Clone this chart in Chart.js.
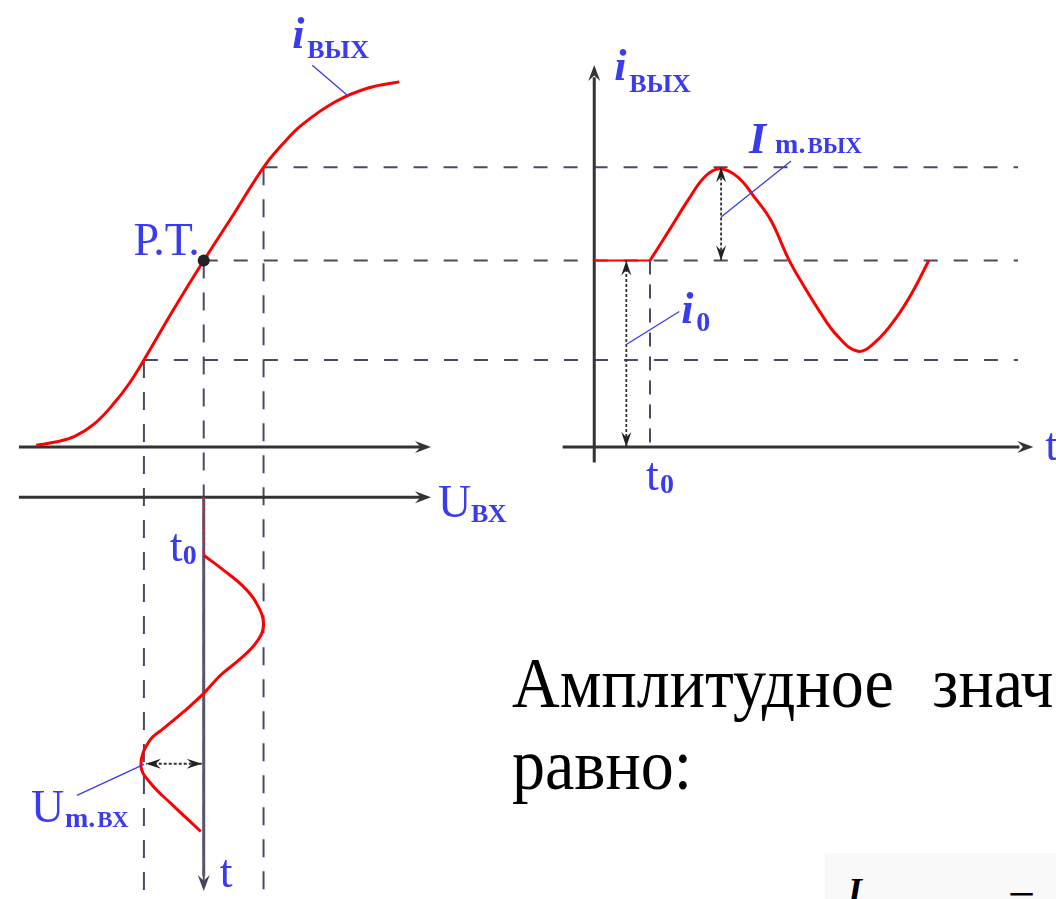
<!DOCTYPE html>
<html>
<head>
<meta charset="utf-8">
<script src="https://cdn.jsdelivr.net/npm/chart.js@4.4.0/dist/chart.umd.min.js"></script>
<style>
  html, body { margin: 0; padding: 0; background: #fff; overflow: hidden; }
  #wrap { position: relative; width: 1056px; height: 899px; overflow: hidden; }
  #diagram { position: absolute; left: 0; top: 0; }
  .text { position: absolute; left: 512px; top: 642px; font: 66px 'Liberation Serif', serif; line-height: 76px; color: #000; white-space: nowrap; word-spacing: 22px; transform: scaleY(1.08); transform-origin: 0 0; }
  .formula { position: absolute; left: 825px; top: 853px; width: 231px; height: 46px; background: #f9f9f9; overflow: hidden; font-family: 'Liberation Serif', serif; line-height: 1; }
  .formula span { position: absolute; }
</style>
</head>
<body>
<div id="wrap">
  <canvas id="diagram" width="1056" height="899"></canvas>
  <div class="text">Амплитудное знач<br>равно:</div>
  <div class="formula">
    <span style="left:23px; top:20px; font-size:36px; font-style:italic; font-weight:bold;">I</span>
    <span style="left:183px; top:22px; font-size:48px;">=</span>
  </div>
</div>
<script>
// transfer characteristic i_вых(U_вх)
const uCurve = [0, 0.32, 0.65, 0.98, 1.31, 1.56, 1.8, 2.3, 2.8, 3.3, 3.8, 4.12, 4.45, 5.0, 5.56, 6.07];
const iCurve = [0.06, 0.16, 0.35, 0.76, 1.43, 2.06, 2.8, 4.44, 6.0, 7.49, 9.0, 9.75, 10.38, 11.11, 11.56, 11.75];

// output current in time (right panel)
const tFlat = [0, 4];
const iFlat = [6, 6];
const tOut = [4, 5.55, 6.74, 7.92, 9.0, 10.28, 11.47, 12.65, 13.95, 15.01, 16.19, 17.38, 18.91, 20.21, 21.63, 22.82, 24];
const iOut = [6, 7.1, 7.95, 8.69, 8.95, 8.69, 8.05, 7.31, 6.04, 5.2, 4.35, 3.61, 3.08, 3.4, 4.14, 4.98, 6];

// input voltage in time (bottom panel, time goes down)
const tIn = [4.16, 5.23, 6.4, 7.59, 9.13, 10.43, 11.61, 12.79, 14.09, 15.39, 16.57, 17.52, 19.29, 20.59, 22.0, 24.02];
const uIn = [2.8, 3.13, 3.46, 3.68, 3.8, 3.68, 3.41, 3.08, 2.8, 2.47, 2.14, 1.89, 1.75, 1.92, 2.25, 2.75];

// levels: min, working point, max
const uLevels = [1.8, 2.8, 3.8];
const iLevels = [2.8, 6, 9];
const t0 = 4;
const tGuideEnd = 30.4;

const BLUE = '#3a3aee';
const pts = (xs, ys) => xs.map((v, k) => ({ x: v, y: ys[k] }));

// min/max of a hidden scale from where its zero sits and how many px one unit takes
function fit(originPx, pxPerUnit, sizePx) {
  return { min: -originPx / pxPerUnit, max: (sizePx - originPx) / pxPerUnit };
}

function line(ctx, x1, y1, x2, y2) {
  ctx.beginPath(); ctx.moveTo(x1, y1); ctx.lineTo(x2, y2); ctx.stroke();
}

function head(ctx, x, y, ang, len = 16, half = 6) {
  ctx.save();
  ctx.translate(x, y); ctx.rotate(ang);
  ctx.beginPath();
  ctx.moveTo(0, 0); ctx.lineTo(-len, -half); ctx.lineTo(-len * 0.65, 0); ctx.lineTo(-len, half);
  ctx.closePath(); ctx.fill();
  ctx.restore();
}

function dbl(ctx, x1, y1, x2, y2) {
  const ang = Math.atan2(y2 - y1, x2 - x1);
  ctx.save();
  ctx.lineWidth = 1.8; ctx.setLineDash([3, 2]);
  line(ctx, x1, y1, x2, y2);
  ctx.setLineDash([]);
  head(ctx, x2, y2, ang, 15, 5);
  head(ctx, x1, y1, ang + Math.PI, 15, 5);
  ctx.restore();
}

function txt(ctx, s, font, x, y) {
  ctx.font = font; ctx.textAlign = 'left'; ctx.fillText(s, x, y);
  return x + ctx.measureText(s).width;
}

const BIG = "46px 'Liberation Serif'";
const ITAL = "italic bold 44px 'Liberation Serif'";
const SUB = "bold small-caps 37px 'Liberation Serif'";
const SUB_S = "bold small-caps 33px 'Liberation Serif'";
const IDX = "bold 28px 'Liberation Serif'";

const guides = {
  id: 'guides',
  beforeDatasetsDraw(chart) {
    const { ctx, chartArea, scales: { x, y, xT, yT } } = chart;
    ctx.save();
    // dashed projection lines
    ctx.strokeStyle = '#4a4a62';
    ctx.lineWidth = 2;
    ctx.setLineDash([14, 16]);
    uLevels.forEach((u, k) => {
      const yy = y.getPixelForValue(iLevels[k]);
      line(ctx, x.getPixelForValue(u), yy, xT.getPixelForValue(tGuideEnd), yy);
    });
    ctx.setLineDash([18, 14]);
    uLevels.forEach((u, k) => {
      const xx = x.getPixelForValue(u);
      line(ctx, xx, y.getPixelForValue(iLevels[k]), xx, chartArea.bottom);
    });
    ctx.setLineDash([14, 10]);
    line(ctx, xT.getPixelForValue(t0), y.getPixelForValue(iLevels[1]), xT.getPixelForValue(t0), y.getPixelForValue(0));
    ctx.setLineDash([]);

    // axes
    ctx.strokeStyle = '#333'; ctx.fillStyle = '#333'; ctx.lineWidth = 3;
    const i0 = y.getPixelForValue(0), u0 = yT.getPixelForValue(0);
    line(ctx, x.getPixelForValue(-0.29), i0, x.getPixelForValue(6.45), i0);
    head(ctx, x.getPixelForValue(6.6), i0, 0);
    line(ctx, x.getPixelForValue(-0.29), u0, x.getPixelForValue(6.45), u0);
    head(ctx, x.getPixelForValue(6.6), u0, 0);
    const ax = xT.getPixelForValue(0);
    line(ctx, ax, y.getPixelForValue(-0.5), ax, y.getPixelForValue(11.9));
    head(ctx, ax, y.getPixelForValue(12.29), -Math.PI / 2);
    line(ctx, xT.getPixelForValue(-2.27), i0, xT.getPixelForValue(30.5), i0);
    head(ctx, xT.getPixelForValue(31.5), i0, 0);
    ctx.strokeStyle = '#55556e'; ctx.fillStyle = '#44445a';
    const tx = x.getPixelForValue(uLevels[1]);
    line(ctx, tx, u0, tx, yT.getPixelForValue(27.2));
    head(ctx, tx, yT.getPixelForValue(28.3), Math.PI / 2);
    ctx.restore();
  },
  afterDatasetsDraw(chart) {
    const { ctx, scales: { x, y, xT, yT } } = chart;
    ctx.save();
    ctx.strokeStyle = '#333'; ctx.fillStyle = '#222';
    // amplitude / bias arrows
    const a0 = xT.getPixelForValue(2.3);
    dbl(ctx, a0, y.getPixelForValue(0), a0, y.getPixelForValue(iLevels[1]));
    const am = xT.getPixelForValue(9.1);
    dbl(ctx, am, y.getPixelForValue(iLevels[1]), am, y.getPixelForValue(iLevels[2]));
    const yu = yT.getPixelForValue(19.15);
    dbl(ctx, x.getPixelForValue(uLevels[1]) - 2, yu, x.getPixelForValue(uLevels[0]) + 2, yu);

    // leader lines
    ctx.strokeStyle = BLUE; ctx.lineWidth = 1.3;
    const L1 = [x.getPixelForValue(5.2), y.getPixelForValue(11.32)];
    line(ctx, L1[0], L1[1], L1[0] - 35, L1[1] - 30);
    const L2 = [a0, y.getPixelForValue(3.3)];
    line(ctx, L2[0], L2[1], L2[0] + 53, L2[1] - 33);
    const L3 = [am, y.getPixelForValue(7.4)];
    line(ctx, L3[0], L3[1], L3[0] + 70, L3[1] - 56);
    const L4 = [x.getPixelForValue(uLevels[0]), yT.getPixelForValue(19.2)];
    line(ctx, L4[0], L4[1], L4[0] - 67, L4[1] + 31);

    // labels
    ctx.fillStyle = BLUE; ctx.textBaseline = 'alphabetic';
    txt(ctx, 'i', ITAL, L1[0] - 55, L1[1] - 47);
    txt(ctx, 'вых', SUB, L1[0] - 40, L1[1] - 37);

    const top = [xT.getPixelForValue(0), y.getPixelForValue(12.29)];
    txt(ctx, 'i', ITAL, top[0] + 20, top[1] + 15);
    txt(ctx, 'вых', SUB, top[0] + 35, top[1] + 27);

    ctx.font = BIG; ctx.textAlign = 'right';
    ctx.fillText('Р.Т.', x.getPixelForValue(uLevels[1]) - 4, y.getPixelForValue(iLevels[1]) - 6);

    const ut = [x.getPixelForValue(6.6), yT.getPixelForValue(0)];
    txt(ctx, 'U', BIG, ut[0] + 7, ut[1] + 20);
    txt(ctx, 'вх', SUB, ut[0] + 40, ut[1] + 25);

    const tb = [x.getPixelForValue(uLevels[1]), yT.getPixelForValue(28.3)];
    txt(ctx, 't', BIG, tb[0] + 16, tb[1] - 4);
    const tb0 = [tb[0], yT.getPixelForValue(t0)];
    txt(ctx, 't', BIG, tb0[0] - 34, tb0[1] + 8);
    txt(ctx, '0', IDX, tb0[0] - 21, tb0[1] + 11);

    const tr0 = [xT.getPixelForValue(t0), y.getPixelForValue(0)];
    txt(ctx, 't', BIG, tr0[0] - 4, tr0[1] + 43);
    txt(ctx, '0', IDX, tr0[0] + 10, tr0[1] + 46);
    txt(ctx, 't', BIG, xT.getPixelForValue(31.5) + 12, tr0[1] + 13);

    txt(ctx, 'i', ITAL, L2[0] + 55, L2[1] - 21);
    txt(ctx, '0', IDX, L2[0] + 70, L2[1] - 13);

    txt(ctx, 'I', ITAL, L3[0] + 28, L3[1] - 64);
    let nx = txt(ctx, 'm.', IDX, L3[0] + 54, L3[1] - 64);
    txt(ctx, 'вых', SUB_S, nx + 2, L3[1] - 64);

    txt(ctx, 'U', BIG, L4[0] - 113, L4[1] + 58);
    nx = txt(ctx, 'm.', IDX, L4[0] - 79, L4[1] + 63);
    txt(ctx, 'вх', SUB_S, nx + 2, L4[1] + 63);
    ctx.restore();
  }
};

new Chart(document.getElementById('diagram'), {
  type: 'scatter',
  data: {
    datasets: [
      { data: [{ x: uLevels[1], y: iLevels[1] }], xAxisID: 'x', yAxisID: 'y', showLine: false,
        pointRadius: 6, pointBackgroundColor: '#222', pointBorderWidth: 0 },
      { data: pts(uCurve, iCurve), xAxisID: 'x', yAxisID: 'y', showLine: true, tension: 0.4,
        borderColor: '#ff0000', borderWidth: 3, pointRadius: 0 },
      { data: pts(tFlat, iFlat), xAxisID: 'xT', yAxisID: 'y', showLine: true,
        borderColor: '#ff0000', borderWidth: 2, pointRadius: 0 },
      { data: pts(tOut, iOut), xAxisID: 'xT', yAxisID: 'y', showLine: true, tension: 0.4,
        borderColor: '#ff0000', borderWidth: 3, pointRadius: 0 },
      { data: pts(uIn, tIn), xAxisID: 'x', yAxisID: 'yT', showLine: true, tension: 0.4,
        borderColor: '#ff0000', borderWidth: 3, pointRadius: 0 },
      { data: [{ x: uLevels[1], y: 0 }, { x: uLevels[1], y: t0 }], xAxisID: 'x', yAxisID: 'yT', showLine: true,
        borderColor: '#e02020', borderWidth: 2, borderDash: [2, 3], pointRadius: 0 }
    ]
  },
  options: {
    responsive: false,
    animation: false,
    devicePixelRatio: 1,
    events: [],
    layout: { padding: 0 },
    plugins: { legend: { display: false }, tooltip: { enabled: false } },
    scales: {
      x:  { type: 'linear', axis: 'x', display: false, ...fit(30.6, 60.5, 1056) },
      xT: { type: 'linear', axis: 'x', display: false, ...fit(595, 14.1, 1056) },
      y:  { type: 'linear', axis: 'y', display: false, min: -(899 - 447) / 31.5, max: 447 / 31.5 },
      yT: { type: 'linear', axis: 'y', display: false, reverse: true, ...fit(498, 14.1, 899) }
    }
  },
  plugins: [guides]
});
</script>
</body>
</html>
